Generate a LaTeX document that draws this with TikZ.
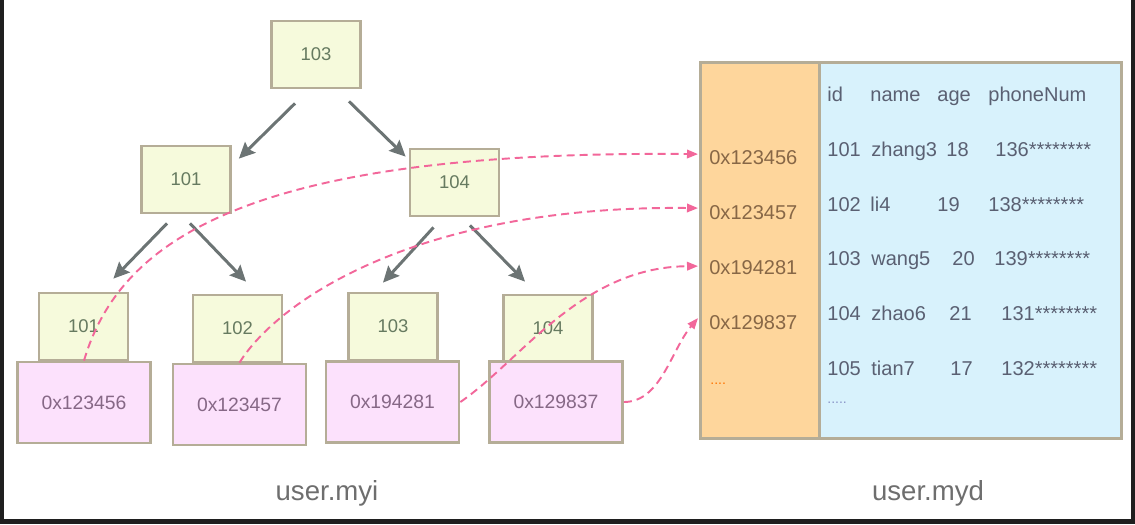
\documentclass[tikz,border=0pt]{standalone}
\usepackage{fontspec}
\setmainfont{Liberation Sans}
\usetikzlibrary{arrows.meta,calc}
\definecolor{keyfill}{HTML}{F6FADC}
\definecolor{keytext}{HTML}{667A60}
\definecolor{ptrfill}{HTML}{FCE1FC}
\definecolor{ptrtext}{HTML}{866886}
\definecolor{boxline}{HTML}{B5AD97}
\definecolor{arrowgray}{HTML}{6C7474}
\definecolor{linkpink}{HTML}{F2679A}
\definecolor{addrfill}{HTML}{FED69C}
\definecolor{addrtext}{HTML}{876746}
\definecolor{rowfill}{HTML}{D8F2FC}
\definecolor{rowtext}{HTML}{5A6072}
\definecolor{moredots}{HTML}{8A96C8}
\definecolor{labeltext}{HTML}{6E6E6E}
\tikzset{
  keybox/.style={draw=boxline, fill=keyfill, line width=1.6pt, inner sep=0pt,
    minimum width=1.78cm, minimum height=1.34cm, text=keytext,
    font=\fontsize{10.5}{12}\selectfont},
  ptrbox/.style={keybox, fill=ptrfill, text=ptrtext, minimum width=2.66cm,
    minimum height=1.62cm, font=\fontsize{11}{13}\selectfont},
  treearrow/.style={draw=arrowgray, line width=1.7pt,
    -{Stealth[length=0.32cm,width=0.3cm,inset=0.05cm]}},
  ptrlink/.style={draw=linkpink, line width=1.1pt, dash pattern=on 0.16cm off 0.1cm,
    -{Triangle[length=0.22cm,width=0.17cm]}},
  addr/.style={anchor=base west, inner sep=0pt, text=addrtext,
    font=\fontsize{11.4}{13}\selectfont},
  cell/.style={addr, text=rowtext},
}
\begin{document}
\begin{tikzpicture}[x=0.02cm, y=-0.02cm]
\useasboundingbox (0,0) rectangle (1135,524);
% Screen frame
\fill[black!88] (0,0) rectangle (4,524);
\fill[black!88] (0,519) rectangle (1135,524);
\fill[black!88] (1131,0) rectangle (1135,524);
% Index tree
\node[keybox] (root) at (316,54.5) {103};
\node[keybox] (left) at (186,179.5) {101};
\node[keybox] (right) at (454.5,182.5) {104};
\node[keybox] (leafa) at (83.5,326.5) {101};
\node[keybox] (leafb) at (237.5,328.5) {102};
\node[keybox] (leafc) at (393,326.5) {103};
\node[keybox] (leafd) at (548,328.5) {104};
% Row pointers under the leaves
\node[ptrbox] (ptra) at (84,402.5) {0x123456};
\node[ptrbox] (ptrb) at (239.5,404.5) {0x123457};
\node[ptrbox] (ptrc) at (392.5,402) {0x194281};
\node[ptrbox] (ptrd) at (556,402) {0x129837};
% Tree arrows
\draw[treearrow] ($(root.south)+(-21,14)$) -- ($(left.north east)+(7,14)$);
\draw[treearrow] ($(root.south)+(33,12)$) -- ($(right.north west)+(-3,9)$);
\draw[treearrow] ($(left.south)+(-19,9)$) -- ($(leafa.north east)+(-16,-13)$);
\draw[treearrow] ($(left.south)+(4,9)$) -- ($(leafb.north)+(8.5,-12)$);
\draw[treearrow] ($(right.south)+(-21,10)$) -- ($(leafc.north)+(-10,-9)$);
\draw[treearrow] ($(right.south)+(15.5,8)$) -- ($(leafd.north)+(-23,-12)$);
% Data file
\node[draw=boxline, fill=addrfill, line width=1.6pt, inner sep=0pt, anchor=north west,
  minimum width=2.38cm, minimum height=7.52cm] (addrcol) at (699,61) {};
\node[draw=boxline, fill=rowfill, line width=1.6pt, inner sep=0pt, anchor=north west,
  minimum width=6.04cm, minimum height=7.52cm] (rowcol) at (818,61) {};
% Addresses
\node[addr] (addra) at (709,164) {0x123456};
\node[addr] (addrb) at (709,219) {0x123457};
\node[addr] (addrc) at (709,274) {0x194281};
\node[addr] (addrd) at (709,329) {0x129837};
\node[addr, text=orange!90!red, font=\fontsize{8}{9}\selectfont] (addre) at (710,384) {....};
% Rows
\node[cell] (hid) at (827,101) {id};
\node[cell] (hname) at (870,101) {name};
\node[cell] (hage) at (937,101) {age};
\node[cell] (hphone) at (988,101) {phoneNum};
\node[cell] (ida) at (827,156) {101}; \node[cell] (namea) at (871,156) {zhang3};
\node[cell] (agea) at (946,156) {18}; \node[cell] (phonea) at (995,156) {136********};
\node[cell] (idb) at (827,211) {102}; \node[cell] (nameb) at (870,211) {li4};
\node[cell] (ageb) at (937,211) {19}; \node[cell] (phoneb) at (988,211) {138********};
\node[cell] (idc) at (827,265) {103}; \node[cell] (namec) at (871,265) {wang5};
\node[cell] (agec) at (952,265) {20}; \node[cell] (phonec) at (994,265) {139********};
\node[cell] (idd) at (827,320) {104}; \node[cell] (named) at (871,320) {zhao6};
\node[cell] (aged) at (949,320) {21}; \node[cell] (phoned) at (1001,320) {131********};
\node[cell] (ide) at (827,375) {105}; \node[cell] (namee) at (871,375) {tian7};
\node[cell] (agee) at (950,375) {17}; \node[cell] (phonee) at (1001,375) {132********};
\node[cell, text=moredots, font=\fontsize{8}{9}\selectfont] (more) at (827,403) {.....};
% Pointer links
\draw[ptrlink] (ptra.north) .. controls +(36,-122) and +(-447,-4) .. ($(addra.west -| addrcol.west)+(-1,-3)$);
\draw[ptrlink] (ptrb.north) .. controls +(40,-64) and +(-277,-3) .. ($(addrb.west -| addrcol.west)+(-1,-4)$);
\draw[ptrlink] (ptrc.east) .. controls +(61,-42) and +(-117,1) .. ($(addrc.west -| addrcol.west)+(-1,-1)$);
\draw[ptrlink] (ptrd.east) .. controls +(37,0) and +(-27,32) .. ($(addrd.west -| addrcol.west)+(-1,-4)$);
% File names
\node[anchor=base, text=labeltext, font=\fontsize{15.7}{18}\selectfont] (myi) at (327,500) {user.myi};
\node[anchor=base, text=labeltext, font=\fontsize{15.7}{18}\selectfont] (myd) at (928,500) {user.myd};
\end{tikzpicture}
\end{document}
